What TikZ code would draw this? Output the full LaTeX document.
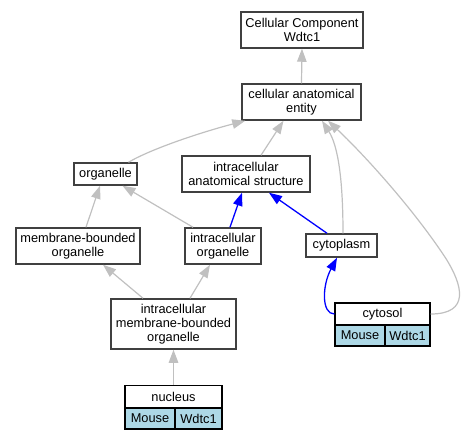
\documentclass[tikz,border=0pt]{standalone}
\usepackage{fontspec}
\setmainfont{Liberation Sans}
\usetikzlibrary{arrows.meta,calc}
\definecolor{edgegray}{HTML}{C0C0C0}
\definecolor{cellblue}{HTML}{ADD8E6}
\definecolor{boxline}{HTML}{404040}
\newcommand{\nodefont}{\fontsize{12.8}{14}\selectfont}
\begin{document}
\begin{tikzpicture}[x=1pt,y=-1pt,
  gobox/.style={draw=boxline, line width=1.5pt, fill=white, inner sep=0pt, align=center, font=\nodefont},
  hdcell/.style={draw=black, line width=1.2pt, fill=white, inner sep=0pt, align=center, font=\nodefont, minimum height=22pt},
  bluecell/.style={draw=black, line width=1.2pt, fill=cellblue, inner sep=0pt, align=center, font=\nodefont, minimum height=21pt},
  garr/.style={draw=edgegray, line width=1.2pt, -{Triangle[length=13pt,width=9.5pt]}},
  barr/.style={draw=blue, line width=1.3pt, -{Triangle[length=13pt,width=9.5pt]}}]
\useasboundingbox (0,0) rectangle (467,440);
% nodes
\node[gobox, minimum width=122pt, minimum height=36pt] (cc) at (302,30) {Cellular Component\\Wdtc1};
\node[gobox, minimum width=119pt, minimum height=36pt] (cae) at (301.5,102) {cellular anatomical\\entity};
\node[gobox, minimum width=63pt, minimum height=22pt] (org) at (105.5,174) {organelle};
\node[gobox, minimum width=128pt, minimum height=36pt] (ias) at (246,174) {intracellular\\anatomical structure};
\node[gobox, minimum width=124pt, minimum height=36pt] (mbo) at (78,246) {membrane-bounded\\organelle};
\node[gobox, minimum width=76pt, minimum height=36pt] (io) at (223,246) {intracellular\\organelle};
\node[gobox, minimum width=71pt, minimum height=23pt] (cyto) at (341.5,245.5) {cytoplasm};
\node[gobox, minimum width=125pt, minimum height=50pt] (imbo) at (173.5,324) {intracellular\\membrane-bounded\\organelle};
% cytosol table
\node[hdcell, minimum width=95pt] (cyh) at (382.5,314) {cytosol};
\node[bluecell, minimum width=50pt] (cym) at (360,335.5) {Mouse};
\node[bluecell, minimum width=45pt] (cyw) at (407.5,335.5) {Wdtc1};
% nucleus table
\node[hdcell, minimum width=97pt] (nuh) at (173.5,396.5) {nucleus};
\node[bluecell, minimum width=50pt] (num) at (150,418.5) {Mouse};
\node[bluecell, minimum width=47pt] (nuw) at (198.5,418.5) {Wdtc1};
% edges
\draw[garr] (cae.north) -- (cc.south);
\draw[garr] ($(org.north)+(23,0)$) .. controls +(22,-13) and +(-46,12) .. ($(cae.south west)+(4,0)$);
\draw[garr] ($(ias.north)+(15,0)$) -- ($(cae.south)+(-18,0)$);
\draw[garr] ($(cyto.north)+(1.5,0)$) .. controls +(0,-54) and +(16,25) .. ($(cae.south)+(20.5,0)$);
\draw[garr] (cyh.east) .. controls +(40,0) and +(17,27) .. ($(cyh.east)+(15,-56)$) .. controls +(-35,-53) and +(32,30) .. ($(cae.south)+(26.5,0)$);
\draw[garr] ($(mbo.north)+(8,0)$) -- ($(org.south)+(-5.5,0)$);
\draw[garr] ($(io.north)+(-30,0)$) -- ($(org.south)+(17,0)$);
\draw[barr] ($(io.north)+(7,0)$) -- ($(ias.south)+(-4,0)$);
\draw[barr] ($(cyto.north)+(-14.5,0)$) -- ($(ias.south)+(23,0)$);
\draw[barr] (cyh.west) .. controls +(-13,0) and +(-15,28) .. ($(cyto.south)+(-4.5,0)$);
\draw[garr] ($(imbo.north)+(-30.5,0)$) -- ($(mbo.south)+(25,0)$);
\draw[garr] ($(imbo.north)+(16.5,0)$) -- ($(io.south)+(-13,0)$);
\draw[garr] (nuh.north) -- (imbo.south);
\end{tikzpicture}
\end{document}
